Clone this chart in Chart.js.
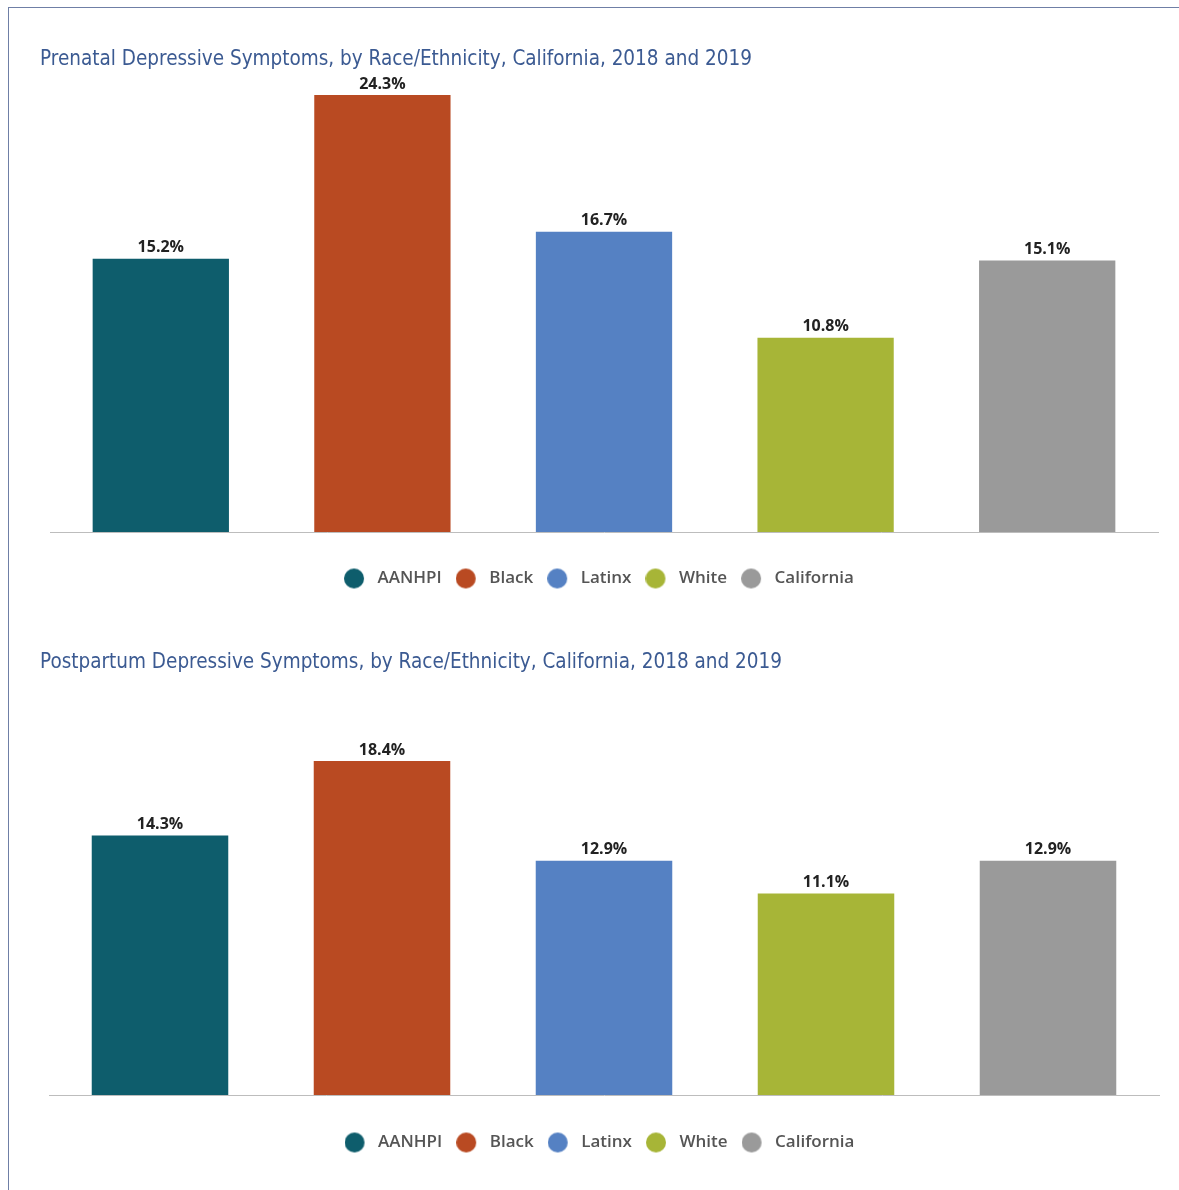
<!DOCTYPE html>
<html>
<head>
<meta charset="utf-8">
<script src="https://cdn.jsdelivr.net/npm/chart.js@4"></script>
<style>
  html, body { margin: 0; padding: 0; background: #fff; }
  body { width: 1179px; height: 1190px; position: relative; overflow: hidden; }
  #frame { position: absolute; left: 8px; top: 7px; right: -2px; bottom: -2px;
           border-top: 1px solid #6f7fa6; border-left: 1px solid #6f7fa6; }
  .box { position: absolute; left: 0; width: 1179px; }
</style>
</head>
<body>
<div id="frame"></div>
<div class="box" style="top:0;height:597px"><canvas id="prenatal"></canvas></div>
<div class="box" style="top:595px;height:566px"><canvas id="postpartum"></canvas></div>
<script>
// --- データ ---
const groups = ['AANHPI', 'Black', 'Latinx', 'White', 'California'];
const groupColors = ['#0e5d6c', '#b94a22', '#5581c3', '#a7b537', '#9a9a9a'];
const prenatalValues = [15.2, 24.3, 16.7, 10.8, 15.1];
const postpartumValues = [14.3, 18.4, 12.9, 11.1, 12.9];
const prenatalTitle = 'Prenatal Depressive Symptoms, by Race/Ethnicity, California, 2018 and 2019';
const postpartumTitle = 'Postpartum Depressive Symptoms, by Race/Ethnicity, California, 2018 and 2019';

const titleFont = "'Liberation Sans Narrow', 'DejaVu Sans Condensed', 'Arial Narrow', sans-serif";
const bodyFont = "'Open Sans', 'Noto Sans', sans-serif";

// 凡例の丸（円の右側に余白を持たせる）
function makeDot(color) {
    const c = document.createElement('canvas');
    c.width = 25;
    c.height = 22;
    const g = c.getContext('2d');
    g.fillStyle = color;
    g.beginPath();
    g.arc(10, 11, 10, 0, Math.PI * 2);
    g.fill();
    return c;
}
const dots = groupColors.map(makeDot);

// バーの上に値ラベル
const valueLabels = {
    id: 'valueLabels',
    afterDatasetsDraw(chart) {
        const ctx = chart.ctx;
        const meta = chart.getDatasetMeta(0);
        const values = chart.data.datasets[0].data;
        ctx.save();
        ctx.font = `700 16px ${bodyFont}`;
        ctx.fillStyle = '#222';
        ctx.textAlign = 'center';
        ctx.textBaseline = 'bottom';
        meta.data.forEach((bar, i) => {
            ctx.fillText(values[i].toFixed(1) + '%', bar.x, bar.y - 3);
        });
        ctx.restore();
    }
};

function makeChart(id, title, values, opt) {
    return new Chart(document.getElementById(id), {
        type: 'bar',
        data: {
            labels: groups,
            datasets: [{
                data: values,
                backgroundColor: groupColors,
                barPercentage: 0.615,
                categoryPercentage: 1
            }]
        },
        options: {
            responsive: true,
            maintainAspectRatio: false,
            animation: false,
            layout: { padding: { left: 40, right: opt.right, top: 0, bottom: 0 } },
            scales: {
                x: {
                    grid: { display: false, drawTicks: false },
                    border: { display: true, color: '#bdbdbd', width: 1 },
                    ticks: { display: false },
                    afterFit: s => { s.height = opt.legendGap; }
                },
                y: {
                    min: 0,
                    max: opt.yMax,
                    grid: { display: false, drawTicks: false },
                    border: { display: false },
                    ticks: { display: false },
                    afterFit: s => { s.width = opt.leftGap; }
                }
            },
            plugins: {
                title: {
                    display: true,
                    text: title,
                    align: 'start',
                    color: '#3b5a92',
                    font: { family: titleFont, size: 20.5, weight: 'normal' },
                    padding: { top: opt.titleTop, bottom: opt.titleBottom }
                },
                legend: {
                    position: 'bottom',
                    labels: {
                        usePointStyle: true,
                        pointStyleWidth: 25,
                        padding: 14,
                        color: '#555',
                        font: { family: bodyFont, size: 17, weight: '600' },
                        generateLabels: chart => chart.data.labels.map((l, i) => ({
                            text: l,
                            pointStyle: dots[i],
                            fillStyle: groupColors[i],
                            strokeStyle: groupColors[i],
                            lineWidth: 0,
                            fontColor: '#555',
                            hidden: false,
                            index: i
                        }))
                    }
                },
                tooltip: { enabled: false }
            }
        },
        plugins: [valueLabels]
    });
}

makeChart('prenatal', prenatalTitle, prenatalValues,
    { yMax: 25, right: 21, leftGap: 10, legendGap: 24, titleTop: 47.5, titleBottom: 10.4 });
makeChart('postpartum', postpartumTitle, postpartumValues,
    { yMax: 22, right: 20, leftGap: 9, legendGap: 25, titleTop: 55.5, titleBottom: 20.5 });
</script>
</body>
</html>
